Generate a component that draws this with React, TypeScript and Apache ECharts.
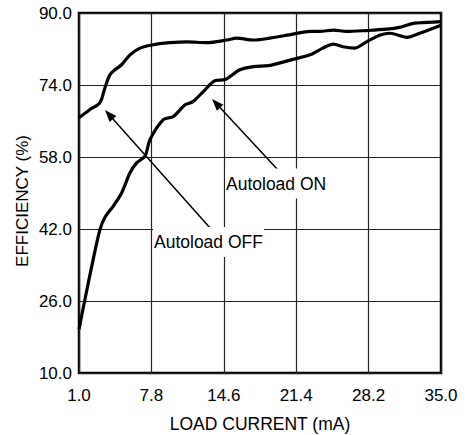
import React, { useEffect, useRef } from "react";
import * as echarts from "echarts";

const xTickStart = 1.0;
const xTickStep = 6.8;
const yTicks = [10, 26, 42, 58, 74, 90];

const offX = [1.0, 2.0, 2.97, 3.44, 3.91, 4.38, 5.0, 5.79, 6.73, 7.83, 9.55, 11.1, 13.0, 14.9, 15.8, 17.4, 18.9, 21.1, 22.7, 23.6, 24.9, 26.1, 28.0, 29.9, 31.1, 32.4, 33.7, 35.0];
const offY = [66.7, 68.5, 70.1, 73.4, 76.3, 77.4, 78.5, 80.7, 82.2, 82.9, 83.4, 83.6, 83.4, 84.0, 84.4, 84.0, 84.4, 85.3, 85.9, 85.9, 86.2, 85.9, 86.1, 86.4, 86.8, 87.7, 87.9, 88.1];

const onX = [1.0, 1.56, 2.34, 2.97, 3.44, 4.22, 5.0, 5.79, 6.42, 7.2, 7.67, 8.92, 9.86, 10.96, 11.7, 12.7, 13.8, 14.7, 16.1, 17.4, 18.8, 21.1, 22.7, 23.9, 24.9, 25.8, 26.9, 28.0, 29.3, 30.2, 31.8, 33.0, 35.0];
const onY = [19.7, 26.4, 35.3, 41.9, 44.6, 47.1, 50.0, 54.5, 56.7, 58.2, 61.9, 66.3, 67.0, 69.6, 70.3, 72.6, 75.0, 75.2, 77.4, 78.1, 78.3, 79.7, 80.7, 82.2, 83.1, 82.5, 82.2, 83.6, 85.1, 85.5, 84.6, 85.5, 87.3];

const FONT = "Liberation Sans, Arial, sans-serif";

function toPairs(xs: number[], ys: number[]) {
  return xs.map((x, i) => [(x - xTickStart) / xTickStep, ys[i]]);
}

function arrow(x1: number, y1: number, x2: number, y2: number) {
  const dx = x2 - x1;
  const dy = y2 - y1;
  const L = Math.sqrt(dx * dx + dy * dy);
  const ux = dx / L;
  const uy = dy / L;
  const len = 12;
  const half = 4.5;
  const bx = x2 - ux * len;
  const by = y2 - uy * len;
  return [
    {
      type: "line",
      shape: { x1, y1, x2: bx + ux * 2, y2: by + uy * 2 },
      style: { stroke: "#000", lineWidth: 1.5 },
      z: 10,
    },
    {
      type: "polygon",
      shape: {
        points: [
          [x2, y2],
          [bx - uy * half, by + ux * half],
          [bx + uy * half, by - ux * half],
        ],
      },
      style: { fill: "#000" },
      z: 10,
    },
  ];
}

export default function App() {
  const ref = useRef<HTMLDivElement>(null);
  useEffect(() => {
    if (!ref.current) return;
    const chart = echarts.init(ref.current, null, { renderer: "svg" });
    chart.setOption({
      animation: false,
      backgroundColor: "#fff",
      grid: {
        left: 79,
        right: 26,
        top: 13,
        bottom: 62,
        show: true,
        borderColor: "#000",
        borderWidth: 2.5,
        backgroundColor: "transparent",
      },
      xAxis: {
        type: "value",
        min: 0,
        max: 5,
        interval: 1,
        axisLine: { show: false },
        axisTick: { show: false },
        splitLine: { show: true, lineStyle: { color: "#222", width: 1.2 } },
        axisLabel: {
          color: "#000",
          fontFamily: FONT,
          fontSize: 17,
          margin: 14,
          formatter: (v: number) => (xTickStart + v * xTickStep).toFixed(1),
        },
      },
      yAxis: {
        type: "value",
        min: yTicks[0],
        max: yTicks[yTicks.length - 1],
        interval: yTicks[1] - yTicks[0],
        axisLine: { show: false },
        axisTick: { show: false },
        splitLine: { show: true, lineStyle: { color: "#222", width: 1.2 } },
        axisLabel: {
          color: "#000",
          fontFamily: FONT,
          fontSize: 17,
          margin: 7,
          formatter: (v: number) => v.toFixed(1),
        },
      },
      series: [
        {
          name: "Autoload OFF",
          type: "line",
          data: toPairs(offX, offY),
          smooth: 0.3,
          symbol: "none",
          lineStyle: { color: "#000", width: 3.2 },
          z: 5,
        },
        {
          name: "Autoload ON",
          type: "line",
          data: toPairs(onX, onY),
          smooth: 0.3,
          symbol: "none",
          lineStyle: { color: "#000", width: 3.2 },
          z: 5,
        },
      ],
      graphic: [
        ...arrow(211, 229, 105, 110),
        ...arrow(278, 170, 212, 99),
        {
          type: "text",
          x: 225,
          y: 183.5,
          z: 11,
          style: {
            text: "Autoload ON",
            font: `17.5px ${FONT}`,
            fill: "#000",
            textVerticalAlign: "middle",
            verticalAlign: "middle",
            backgroundColor: "#fff",
            padding: [6, 1, 6, 1],
          },
        },
        {
          type: "text",
          x: 153,
          y: 242,
          z: 11,
          style: {
            text: "Autoload OFF",
            font: `17.5px ${FONT}`,
            fill: "#000",
            textVerticalAlign: "middle",
            verticalAlign: "middle",
            backgroundColor: "#fff",
            padding: [6, 1, 6, 1],
          },
        },
        {
          type: "text",
          x: 260,
          y: 424,
          style: {
            text: "LOAD CURRENT (mA)",
            font: `17.5px ${FONT}`,
            fill: "#000",
            align: "center",
            textAlign: "center",
            verticalAlign: "middle",
            textVerticalAlign: "middle",
          },
        },
        {
          type: "text",
          x: 22,
          y: 201,
          rotation: Math.PI / 2,
          style: {
            text: "EFFICIENCY (%)",
            font: `17px ${FONT}`,
            fill: "#000",
            align: "center",
            textAlign: "center",
            verticalAlign: "middle",
            textVerticalAlign: "middle",
          },
        },
      ],
    });
    return () => chart.dispose();
  }, []);
  return <div ref={ref} style={{ width: 467, height: 435, position: "absolute", left: 0, top: 0 }} />;
}
